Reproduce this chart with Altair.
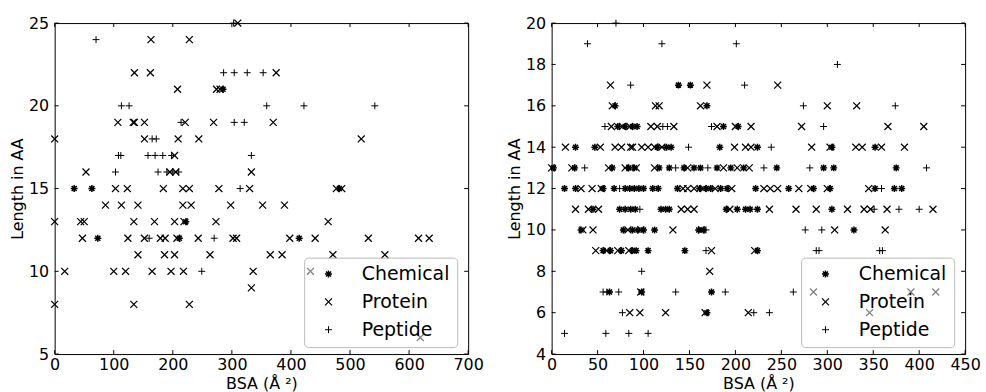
import altair as alt
import pandas as pd

TYPES = ["Chemical", "Protein", "Peptide"]

# ---------------- data: {length in AA: [BSA values]} ----------------
left_chemical = {21: [285], 15: [33, 63, 482], 13: [222], 12: [73, 211, 414]}
left_protein = {
    25: [310], 24: [163, 228], 22: [135, 162, 375], 21: [208, 274, 280],
    19: [107, 133, 135, 152, 221, 269, 370], 18: [0, 152, 209, 244, 519],
    17: [203], 16: [53, 195, 205, 333],
    15: [103, 123, 184, 217, 228, 278, 330, 477, 486],
    14: [86, 113, 141, 217, 231, 298, 352, 389],
    13: [0, 44, 50, 134, 169, 203, 219, 273, 463],
    12: [47, 124, 152, 179, 187, 207, 243, 302, 308, 398, 441, 531, 616, 634],
    11: [141, 186, 203, 263, 365, 385, 471, 559],
    10: [17, 100, 120, 165, 197, 218, 336, 433],
    9: [333], 8: [0, 134, 228], 6: [619],
}
left_peptide = {
    25: [303], 24: [70], 22: [286, 304, 326, 353], 20: [113, 126, 359, 422, 542],
    19: [214, 304, 321], 18: [165, 172], 17: [108, 112, 158, 170, 183, 198, 333],
    16: [103, 175, 190, 200, 210], 15: [314], 12: [160, 270], 10: [249],
}

right_chemical = {
    17: [138, 151], 16: [69, 169], 15: [72, 80, 88, 93, 187, 203],
    14: [26, 47, 115, 125, 130, 183, 224, 305, 352],
    13: [2, 25, 66, 84, 90, 117, 128, 144, 155, 162, 180, 195, 209, 245, 296, 307, 375],
    12: [14, 26, 56, 68, 80, 85, 90, 95, 100, 110, 116, 137, 161, 168, 173, 184,
         191, 222, 258, 285, 303, 352, 373, 381],
    11: [45, 74, 80, 86, 91, 119, 124, 128, 190, 202, 211, 216, 224, 305],
    10: [32, 78, 88, 94, 100, 112, 160, 165, 329],
    9: [56, 64, 76, 88, 92, 105, 145, 224], 7: [63, 98, 174], 6: [169],
}
right_protein = {
    17: [64, 169, 246], 16: [66, 113, 117, 162, 300, 332],
    15: [65, 77, 85, 108, 115, 133, 180, 200, 217, 272, 366, 405],
    14: [15, 53, 69, 76, 86, 88, 98, 105, 112, 120, 199, 211, 217, 283, 303, 331, 338, 359, 384],
    13: [0, 22, 62, 80, 92, 112, 148, 187, 202, 215],
    12: [32, 44, 54, 143, 148, 155, 165, 178, 196, 231, 238, 246, 269, 282, 300, 345],
    11: [26, 40, 51, 141, 148, 155, 194, 237, 266, 288, 322, 340, 347, 365, 415],
    10: [34, 45, 83, 97, 132, 163, 308, 363],
    9: [48, 60, 72, 84, 174, 221], 8: [172], 7: [97, 285, 391, 418],
    6: [85, 96, 124, 167, 214, 346],
}
right_peptide = {
    20: [70], 19: [39, 120, 201], 18: [311], 17: [86, 210], 16: [274, 374],
    15: [58, 121, 126, 174, 296], 14: [149, 239], 13: [36, 82, 135, 170, 231, 281, 408],
    12: [74, 359], 11: [96, 351, 378, 400], 10: [168, 276, 294],
    9: [168, 288, 291, 357, 360], 8: [98], 7: [56, 60, 73, 135, 189, 263],
    6: [77, 220, 237], 5: [14, 59, 84, 105],
}

left_x_ticks = [0, 100, 200, 300, 400, 500, 600, 700]
left_y_ticks = [5, 10, 15, 20, 25]
right_x_ticks = [0, 50, 100, 150, 200, 250, 300, 350, 400, 450]
right_y_ticks = [4, 6, 8, 10, 12, 14, 16, 18, 20]

# ---------------- styling ----------------
ASTERISK = "M-1,0L1,0M0,-1L0,1M-0.72,-0.72L0.72,0.72M-0.72,0.72L0.72,-0.72"
CROSS_X = "M-1,-1L1,1M-1,1L1,-1"
PLUS = "M-1,0L1,0M0,-1L0,1"
W, H = 416, 333
TICK = 4
FONT = "DejaVu Sans"


def rows(type_name, d):
    return [{"bsa": b, "length": l, "type": type_name} for l, bs in d.items() for b in bs]


def panel(chem, prot, pept, xticks, yticks):
    df = pd.DataFrame(rows("Chemical", chem) + rows("Protein", prot) + rows("Peptide", pept))
    xs = alt.Scale(domain=[xticks[0], xticks[-1]], nice=False, zero=False)
    ys = alt.Scale(domain=[yticks[0], yticks[-1]], nice=False, zero=False)
    xaxis = alt.Axis(values=xticks, title="BSA (Å ²)", labelFlush=False, labelOverlap=False,
                     domain=False, ticks=False, tickSize=0, grid=False, labelPadding=3,
                     titlePadding=3, format="d")
    yaxis = alt.Axis(values=yticks, title="Length in AA", labelFlush=False, labelOverlap=False,
                     domain=False, ticks=False, tickSize=0, grid=False, labelPadding=6,
                     titlePadding=3, format="d")
    legend = alt.Legend(
        title=None, orient="none", legendX=251, legendY=236,
        fillColor="rgba(255,255,255,0.5)", strokeColor="#bbbbbb", cornerRadius=4,
        padding=7, rowPadding=8, labelFontSize=19, labelFont=FONT, labelColor="black",
        symbolSize=49, symbolStrokeWidth=1.2, symbolStrokeColor="black",
        symbolFillColor="transparent", symbolOffset=8, labelOffset=24,
        labelBaseline="middle",
    )
    pts = alt.Chart(df).mark_point(filled=False, color="black",
                                   opacity=1, size=49).encode(
        x=alt.X("bsa:Q", scale=xs, axis=xaxis),
        y=alt.Y("length:Q", scale=ys, axis=yaxis),
        shape=alt.Shape("type:N", scale=alt.Scale(domain=TYPES, range=[ASTERISK, CROSS_X, PLUS]),
                        legend=legend),
        strokeWidth=alt.StrokeWidth("type:N", scale=alt.Scale(domain=TYPES, range=[1.5, 1, 1]),
                                    legend=None),
    )
    xt = pd.DataFrame({"bsa": xticks})
    yt = pd.DataFrame({"length": yticks})
    xb = alt.Chart(xt).mark_rule(color="black", strokeWidth=1).encode(
        x=alt.X("bsa:Q", scale=xs, axis=xaxis), y=alt.value(H), y2=alt.value(H - TICK))
    xtop = alt.Chart(xt).mark_rule(color="black", strokeWidth=1).encode(
        x=alt.X("bsa:Q", scale=xs, axis=xaxis), y=alt.value(0), y2=alt.value(TICK))
    yl = alt.Chart(yt).mark_rule(color="black", strokeWidth=1).encode(
        y=alt.Y("length:Q", scale=ys, axis=yaxis), x=alt.value(0), x2=alt.value(TICK))
    yr = alt.Chart(yt).mark_rule(color="black", strokeWidth=1).encode(
        y=alt.Y("length:Q", scale=ys, axis=yaxis), x=alt.value(W), x2=alt.value(W - TICK))
    return alt.layer(xb, xtop, yl, yr, pts).properties(width=W, height=H)


left = panel(left_chemical, left_protein, left_peptide, left_x_ticks, left_y_ticks)
right = panel(right_chemical, right_protein, right_peptide, right_x_ticks, right_y_ticks)

chart = alt.hconcat(left, right, spacing=84, bounds="flush").resolve_scale(
    shape="independent", strokeWidth="independent"
).resolve_legend(
    shape="independent"
).properties(
    padding={"left": 9, "top": 13, "right": 5, "bottom": 4},
    background="white",
).configure_view(
    stroke="black", strokeWidth=1, fill="white"
).configure_axis(
    labelFont=FONT, titleFont=FONT, labelFontSize=16, titleFontSize=16,
    labelColor="black", titleColor="black", titleFontWeight="normal",
)

chart.save("out.html", embed_options={"renderer": "svg", "actions": False})
